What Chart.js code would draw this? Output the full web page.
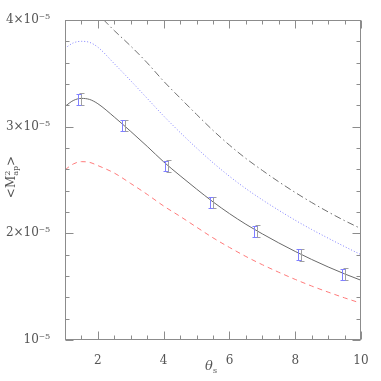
<!DOCTYPE html>
<html>
<head>
<meta charset="utf-8">
<script src="https://cdn.jsdelivr.net/npm/chart.js@4.4.0/dist/chart.umd.min.js"></script>
<style>
html,body{margin:0;padding:0;background:#fff;}
#wrap{width:381px;height:381px;}
</style>
</head>
<body>
<div id="wrap"><canvas id="c" width="381" height="381"></canvas></div>
<script>
// values in units of 1e-5
const curveX      = [1,1.25,1.5,1.75,2,2.5,3,3.5,4,4.5,5,5.5,6,6.5,7,7.5,8,8.5,9,9.5,10];
const solidY      = [3.19,3.245,3.265,3.255,3.215,3.09,2.955,2.815,2.67,2.54,2.415,2.295,2.185,2.085,1.995,1.91,1.83,1.755,1.685,1.62,1.56];
const dottedY     = [3.735,3.785,3.80,3.79,3.745,3.59,3.43,3.265,3.10,2.946,2.80,2.662,2.535,2.419,2.314,2.216,2.123,2.036,1.955,1.876,1.80];
const dashedY     = [2.595,2.65,2.672,2.665,2.635,2.565,2.467,2.365,2.256,2.159,2.058,1.958,1.868,1.783,1.706,1.635,1.568,1.506,1.449,1.395,1.345];
const dashDotY    = [4.07,4.11,4.12,4.10,4.05,3.90,3.755,3.598,3.426,3.269,3.115,2.965,2.827,2.702,2.59,2.483,2.383,2.289,2.201,2.119,2.044];
const pointX      = [1.43,2.77,4.07,5.43,6.78,8.12,9.46];
const pointY      = [3.257,3.01,2.63,2.29,2.02,1.80,1.617];
const errBlue     = [0.05,0.05,0.05,0.05,0.05,0.05,0.05];
const errGray     = [0.055,0.055,0.055,0.055,0.055,0.055,0.055];
const xTicks      = [2,4,6,8,10];
const xTickLabels = ['2','4','6','8','10'];
const yTicks      = [1,2,3,4];
const yTickLabels = ['10⁻⁵','2×10⁻⁵','3×10⁻⁵','4×10⁻⁵'];

const pts = ys => curveX.map((x,i)=>({x:x,y:ys[i]}));
const FONT = "'DejaVu Serif', 'Liberation Serif', serif";

const decor = {
  id:'decor',
  afterDatasetsDraw(chart){
    const {ctx, chartArea:a, scales:{x,y}} = chart;
    ctx.save();
    // error bars
    const drawBar = (px, v, e, col) => {
      const t = Math.round(y.getPixelForValue(v+e))+0.5, b = Math.round(y.getPixelForValue(v-e))+0.5;
      const xx = Math.round(px)+0.5;
      ctx.strokeStyle = col; ctx.lineWidth = 1;
      ctx.beginPath();
      ctx.moveTo(xx,t); ctx.lineTo(xx,b);
      ctx.moveTo(xx-2,t); ctx.lineTo(xx+3,t);
      ctx.moveTo(xx-2,b); ctx.lineTo(xx+3,b);
      ctx.stroke();
    };
    pointX.forEach((xv,i)=>{
      const px = x.getPixelForValue(xv);
      drawBar(px+2, pointY[i], errGray[i], '#a0a0a0');
      drawBar(px-1, pointY[i], errBlue[i], '#8080ff');
    });
    // frame
    ctx.strokeStyle = '#8c8c8c'; ctx.lineWidth = 1;
    const L = Math.round(a.left)+0.5, R = Math.round(a.right)-0.5, T = Math.round(a.top)+0.5, B = Math.round(a.bottom)-0.5;
    ctx.strokeRect(L, T, R-L, B-T);
    ctx.beginPath();
    for (let v = 1; v <= 10.001; v += 0.5) {
      const px = Math.round(x.getPixelForValue(v))+0.5;
      const major = xTicks.some(t=>Math.abs(t-v)<1e-6);
      const len = major ? 8 : 4;
      ctx.moveTo(px,B); ctx.lineTo(px,B-len);
      ctx.moveTo(px,T); ctx.lineTo(px,T+len);
    }
    for (let v = 1; v <= 4.001; v += 0.2) {
      const py = Math.round(y.getPixelForValue(v))+0.5;
      const major = yTicks.some(t=>Math.abs(t-v)<1e-6);
      const len = major ? 8 : 4;
      ctx.moveTo(L,py); ctx.lineTo(L+len,py);
      ctx.moveTo(R,py); ctx.lineTo(R-len,py);
    }
    ctx.stroke();
    // axis titles
    ctx.fillStyle = '#555';
    ctx.textBaseline = 'alphabetic';
    // x title
    ctx.font = "italic 13px " + FONT;
    const th = 'θ';
    const tw = ctx.measureText(th).width;
    const cx = 211;
    ctx.fillText(th, cx - tw/2 - 2, 370);
    ctx.font = "8px " + FONT;
    ctx.fillText('s', cx + tw/2 - 2, 373);
    // y title
    ctx.save();
    ctx.translate(15, 177);
    ctx.rotate(-Math.PI/2);
    ctx.font = "12px " + FONT;
    const w1 = ctx.measureText('<M').width;
    ctx.font = "8px " + FONT;
    const w2 = Math.max(ctx.measureText('2').width, ctx.measureText('ap').width);
    ctx.font = "12px " + FONT;
    const w3 = ctx.measureText('>').width;
    let sx = -(w1+w2+w3)/2;
    ctx.fillText('<M', sx, 0); sx += w1;
    ctx.font = "8px " + FONT;
    ctx.fillText('2', sx, -5);
    ctx.fillText('ap', sx, 3);
    sx += w2;
    ctx.font = "12px " + FONT;
    ctx.fillText('>', sx, 0);
    ctx.restore();
    ctx.restore();
  }
};

new Chart(document.getElementById('c'), {
  type:'line',
  data:{
    datasets:[
      {data:pts(dashDotY), borderColor:'#707070', borderWidth:1, borderDash:[7,3,1.5,3], pointRadius:0, cubicInterpolationMode:'monotone', fill:false},
      {data:pts(dottedY), borderColor:'#8080ff', borderWidth:1, borderDash:[1,2], pointRadius:0, cubicInterpolationMode:'monotone', fill:false},
      {data:pts(solidY), borderColor:'#6a6a6a', borderWidth:1, pointRadius:0, cubicInterpolationMode:'monotone', fill:false},
      {data:pts(dashedY), borderColor:'#ff7a7a', borderWidth:1, borderDash:[5,4], pointRadius:0, cubicInterpolationMode:'monotone', fill:false}
    ]
  },
  options:{
    responsive:false,
    animation:false,
    devicePixelRatio:1,
    layout:{padding:{top:20,right:20,left:0,bottom:0}},
    plugins:{legend:{display:false}, tooltip:{enabled:false}},
    scales:{
      x:{
        type:'linear', min:1, max:10,
        grid:{display:false}, border:{display:false},
        afterBuildTicks:s=>{ s.ticks = xTicks.map(v=>({value:v})); },
        afterFit:s=>{ s.height = 41; },
        ticks:{
          callback:(v)=>{ const i = xTicks.indexOf(v); return i>=0 ? xTickLabels[i] : ''; },
          color:'#555', padding:6, maxRotation:0, autoSkip:false,
          font:{family:FONT, size:12}
        }
      },
      y:{
        type:'linear', min:1, max:4,
        grid:{display:false}, border:{display:false},
        afterBuildTicks:s=>{ s.ticks = yTicks.map(v=>({value:v})); },
        afterFit:s=>{ s.width = 65; },
        ticks:{
          callback:(v)=>{ const i = yTicks.indexOf(v); return i>=0 ? yTickLabels[i] : ''; },
          color:'#555', padding:7, autoSkip:false,
          font:{family:FONT, size:12}
        }
      }
    }
  },
  plugins:[decor]
});
</script>
</body>
</html>
